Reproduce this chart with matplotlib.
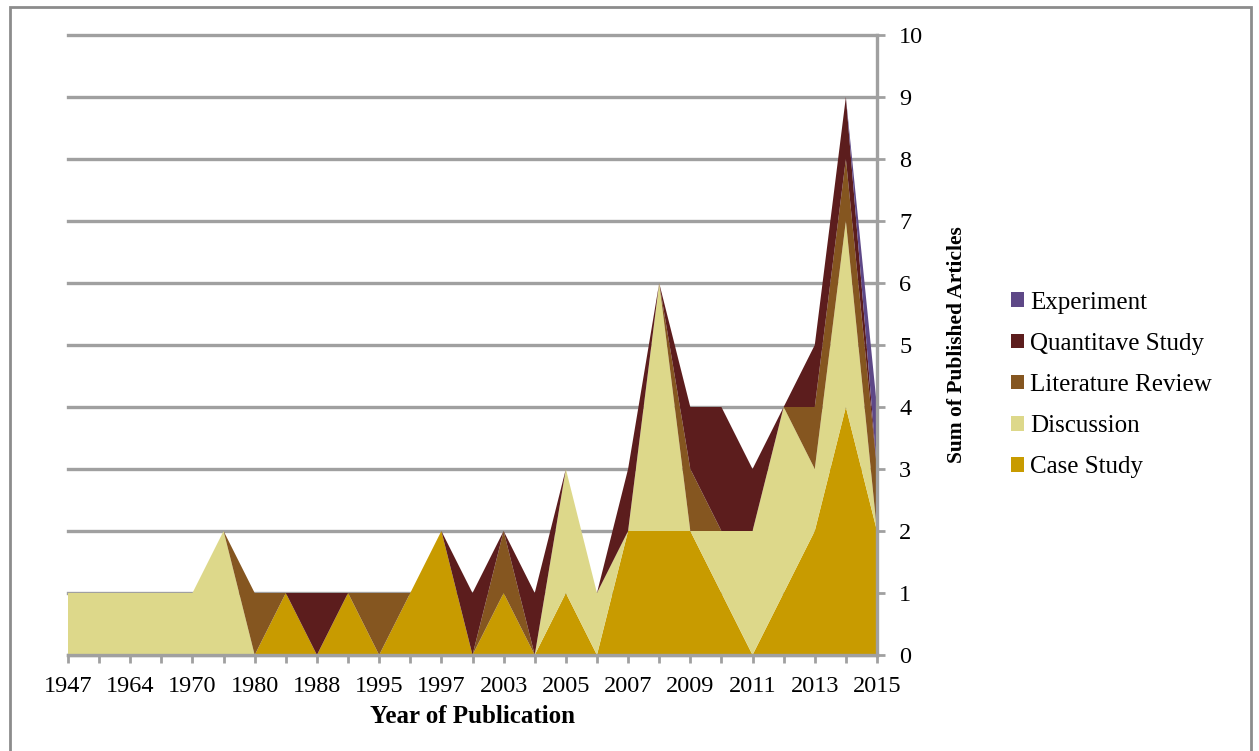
import matplotlib
matplotlib.use("Agg")
import matplotlib.pyplot as plt
from matplotlib.patches import Patch, Rectangle

# Publication years (every second one is labelled on the axis)
years = ["1947", "1960", "1964", "1967", "1970", "1975", "1980", "1985", "1988",
         "1990", "1995", "1996", "1997", "2000", "2003", "2004", "2005", "2006",
         "2007", "2008", "2009", "2010", "2011", "2012", "2013", "2014", "2015"]

# Articles per year, by study type
case_study = [0, 0, 0, 0, 0, 0, 0, 1, 0, 1, 0, 1, 2, 0, 1, 0, 1, 0, 2, 2, 2, 1, 0, 1, 2, 4, 2]
discussion = [1, 1, 1, 1, 1, 2, 0, 0, 0, 0, 0, 0, 0, 0, 0, 0, 2, 1, 0, 4, 0, 1, 2, 3, 1, 3, 0]
literature_review = [0, 0, 0, 0, 0, 0, 1, 0, 0, 0, 1, 0, 0, 0, 1, 0, 0, 0, 0, 0, 1, 0, 0, 0, 1, 1, 1]
quantitave_study = [0, 0, 0, 0, 0, 0, 0, 0, 1, 0, 0, 0, 0, 1, 0, 1, 0, 0, 1, 0, 1, 2, 1, 0, 1, 1, 0]
experiment = [0, 0, 0, 0, 0, 0, 0, 0, 0, 0, 0, 0, 0, 0, 0, 0, 0, 0, 0, 0, 0, 0, 0, 0, 0, 0, 1]

series_names = ["Case Study", "Discussion", "Literature Review", "Quantitave Study", "Experiment"]
series_colors = ["#C89B00", "#DDD88A", "#855620", "#5C1D1D", "#5E4887"]

W, H = 1259, 751
fig = plt.figure(figsize=(W / 100, H / 100), dpi=100)
plt.rcParams["font.family"] = ["Liberation Serif", "DejaVu Serif"]

ax = fig.add_axes([68 / W, 1 - 655 / H, (877 - 68) / W, (655 - 35) / H])

x = list(range(len(years)))
ax.stackplot(x, case_study, discussion, literature_review, quantitave_study, experiment,
             colors=series_colors, linewidth=0, antialiased=True)

grey = "#A0A0A0"
ax.set_xlim(0, len(years) - 1)
ax.set_ylim(0, 10)
ax.set_axisbelow(True)
ax.yaxis.grid(True, color=grey, linewidth=2.4)
ax.xaxis.grid(False)

for side in ["top", "left"]:
    ax.spines[side].set_visible(False)
for side in ["right", "bottom"]:
    ax.spines[side].set_color(grey)
    ax.spines[side].set_linewidth(2.4)

ax.yaxis.tick_right()
ax.yaxis.set_label_position("right")
ax.set_yticks(range(0, 11))
ax.set_xticks(x)
ax.set_xticklabels([y if i % 2 == 0 else "" for i, y in enumerate(years)])
ax.tick_params(axis="both", colors=grey, width=2, length=6, labelsize=17.5,
               labelcolor="black")
ax.tick_params(axis="y", pad=10)
ax.tick_params(axis="x", pad=9)
for gl in ax.get_ygridlines():
    gl.set_clip_on(False)

ax.set_xlabel("Year of Publication", fontsize=18, fontweight="bold", labelpad=6)
ax.set_ylabel("Sum of Published Articles", fontsize=15.5, fontweight="bold", labelpad=17)

handles = [Patch(facecolor=c, edgecolor="none") for c in series_colors][::-1]
fig.legend(handles, series_names[::-1], loc="center left",
           bbox_to_anchor=(1011 / W, 1 - 385 / H), frameon=False,
           fontsize=18, handlelength=0.52, handleheight=0.52,
           handletextpad=0.25, labelspacing=0.77, borderpad=0, borderaxespad=0)

# Outer frame around the chart area
fig.patches.append(Rectangle((10 / W, -0.02), (1251 - 10) / W, 1.02 - 7 / H,
                             transform=fig.transFigure, fill=False,
                             edgecolor="#8C8C8C", linewidth=2))

fig.savefig("out.png", dpi=100)
